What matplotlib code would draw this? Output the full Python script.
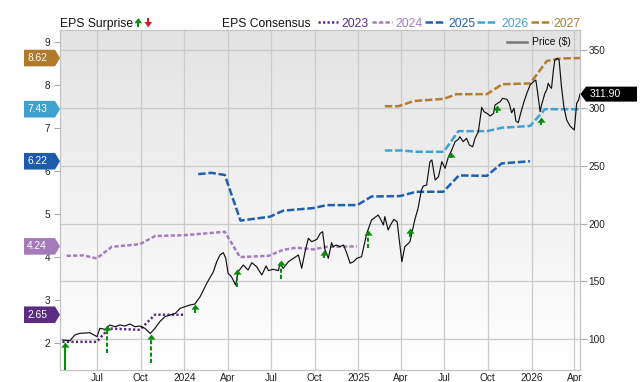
import matplotlib
matplotlib.use('Agg')
import matplotlib.pyplot as plt
import numpy as np
import pandas as pd
from matplotlib.patches import Polygon
from matplotlib.lines import Line2D
from matplotlib.path import Path
from matplotlib.transforms import IdentityTransform
from matplotlib.colors import LinearSegmentedColormap

plt.rcParams['font.family'] = ['Liberation Sans', 'DejaVu Sans']

# ---------------- data ----------------
price_dates = [
    '2023-04-20', '2023-05-05', '2023-05-15', '2023-05-26', '2023-06-16', '2023-07-01', '2023-07-07',
    '2023-07-18', '2023-07-28', '2023-08-08', '2023-08-18', '2023-08-29', '2023-09-08', '2023-09-19',
    '2023-09-29', '2023-10-10', '2023-10-21', '2023-10-31', '2023-11-10', '2023-11-21', '2023-12-02',
    '2023-12-13', '2023-12-23', '2024-01-02', '2024-01-13', '2024-01-23', '2024-02-03', '2024-02-17',
    '2024-03-02', '2024-03-09', '2024-03-16', '2024-03-23', '2024-03-28', '2024-04-02', '2024-04-09',
    '2024-04-18', '2024-04-23', '2024-05-04', '2024-05-14', '2024-05-22', '2024-06-01', '2024-06-12',
    '2024-06-21', '2024-06-26', '2024-07-06', '2024-07-17', '2024-07-20', '2024-07-27', '2024-08-07',
    '2024-08-21', '2024-08-28', '2024-09-04', '2024-09-11', '2024-09-18', '2024-09-25', '2024-10-06',
    '2024-10-13', '2024-10-18', '2024-10-23', '2024-10-27', '2024-10-30', '2024-11-06', '2024-11-09',
    '2024-11-16', '2024-11-23', '2024-12-01', '2024-12-08', '2024-12-15', '2024-12-22', '2024-12-29',
    '2025-01-08', '2025-01-19', '2025-01-29', '2025-02-12', '2025-02-16', '2025-02-23', '2025-02-26',
    '2025-03-05', '2025-03-10', '2025-03-17', '2025-03-24', '2025-03-28', '2025-04-03', '2025-04-09',
    '2025-04-13', '2025-04-20', '2025-04-30', '2025-05-07', '2025-05-14', '2025-05-18', '2025-05-25',
    '2025-06-01', '2025-06-05', '2025-06-12', '2025-06-19', '2025-06-26', '2025-07-03', '2025-07-10',
    '2025-07-17', '2025-07-24', '2025-07-31', '2025-08-03', '2025-08-10', '2025-08-17', '2025-08-23',
    '2025-08-30', '2025-09-04', '2025-09-11', '2025-09-18', '2025-09-23', '2025-09-29', '2025-10-06',
    '2025-10-13', '2025-10-16', '2025-10-27', '2025-11-01', '2025-11-10', '2025-11-15', '2025-11-20',
    '2025-11-25', '2025-11-29', '2025-12-04', '2025-12-09', '2025-12-15', '2025-12-22', '2025-12-29',
    '2026-01-05', '2026-01-10', '2026-01-14', '2026-01-19', '2026-01-22', '2026-01-29', '2026-02-02',
    '2026-02-05', '2026-02-09', '2026-02-12', '2026-02-16', '2026-02-19', '2026-02-24', '2026-02-28',
    '2026-03-05', '2026-03-10', '2026-03-16', '2026-03-23', '2026-04-01', '2026-04-06', '2026-04-10',
    '2026-04-13']
price_values = [
    99.4, 98.8, 103.7, 105.2, 105.7, 102.3, 109.5,
    108.6, 112.4, 110.9, 112.4, 111.5, 113.2, 110.9,
    111.5, 109.5, 105.0, 109.5, 115.2, 119.6, 121.0,
    122.5, 126.8, 128.2, 129.7, 130.5, 136.8, 148.4,
    158.4, 167.1, 172.9, 174.9, 170.0, 157.0, 154.1,
    146.9, 158.4, 164.2, 159.9, 166.2, 162.8, 155.6,
    163.4, 159.4, 160.5, 159.4, 165.7, 161.4, 167.1,
    170.9, 172.9, 161.4, 175.7, 187.3, 184.4, 186.4,
    191.6, 193.0, 177.2, 173.7, 170.0, 183.5, 180.0,
    181.5, 180.0, 181.5, 174.3, 165.7, 167.1, 170.0,
    171.4, 191.6, 203.1, 207.4, 204.6, 198.8, 206.0,
    194.5, 198.8, 203.7, 201.6, 187.3, 167.1, 180.0,
    181.5, 184.4, 203.1, 213.2, 229.0, 232.5, 233.3,
    253.5, 255.0, 237.7, 240.5, 253.5, 247.8, 257.8,
    263.6, 270.8, 272.9, 275.1, 270.8, 273.7, 267.9,
    266.4, 273.7, 279.4, 300.5, 296.7, 295.3, 293.0,
    295.3, 302.5, 305.4, 308.3, 307.4, 303.9, 295.8,
    299.6, 288.7, 287.2, 295.3, 303.9, 312.6, 319.8,
    322.6, 324.1, 312.6, 296.7, 302.5, 312.6, 315.5,
    321.2, 318.3, 316.9, 332.7, 341.4, 342.8, 341.4,
    318.3, 301.0, 289.5, 284.3, 280.9, 303.9, 306.8,
    311.9]

eps2023_dates = ['2023-04-19', '2023-06-30', '2023-07-26', '2023-09-29', '2023-10-31', '2023-12-30']
eps2023_values = [2.02, 2.02, 2.33, 2.30, 2.65, 2.65]

eps2024_dates = ['2023-04-28', '2023-06-02', '2023-06-30', '2023-08-01', '2023-09-29', '2023-10-31',
                 '2023-12-30', '2024-02-03', '2024-03-26', '2024-04-27', '2024-06-26', '2024-07-27',
                 '2024-08-24', '2024-09-28', '2024-10-27', '2024-12-29']
eps2024_values = [4.02, 4.03, 3.96, 4.23, 4.29, 4.48, 4.50, 4.53, 4.58, 3.99, 4.02, 4.16,
                  4.21, 4.17, 4.23, 4.24]

eps2025_dates = ['2024-01-30', '2024-02-27', '2024-03-26', '2024-04-28', '2024-06-29', '2024-07-27',
                 '2024-09-28', '2024-10-27', '2024-12-30', '2025-01-29', '2025-03-30', '2025-05-03',
                 '2025-06-29', '2025-08-01', '2025-09-29', '2025-10-30', '2025-12-29']
eps2025_values = [5.92, 5.95, 5.90, 4.84, 4.93, 5.07, 5.13, 5.20, 5.20, 5.40, 5.41, 5.51,
                  5.51, 5.89, 5.88, 6.17, 6.22]

eps2026_dates = ['2025-02-26', '2025-04-03', '2025-05-04', '2025-06-30', '2025-07-31', '2025-09-29',
                 '2025-10-31', '2025-12-29', '2026-01-29', '2026-04-13']
eps2026_values = [6.47, 6.47, 6.44, 6.44, 6.92, 6.92, 7.00, 7.04, 7.43, 7.43]

eps2027_dates = ['2025-02-26', '2025-03-27', '2025-04-28', '2025-06-30', '2025-07-27', '2025-09-29',
                 '2025-10-31', '2025-12-29', '2026-02-02', '2026-03-02', '2026-04-13']
eps2027_values = [7.50, 7.50, 7.62, 7.67, 7.78, 7.78, 8.01, 8.03, 8.55, 8.61, 8.62]

series_names = ['2023', '2024', '2025', '2026', '2027']
series_colors = ['#5b2c86', '#a67cc0', '#1f5fb0', '#3ea3d2', '#b37e2f']

surprise_dates = ['2023-04-24', '2023-07-23', '2023-10-22', '2024-01-23', '2024-04-21', '2024-07-22',
                  '2024-10-21', '2025-01-22', '2025-04-20', '2025-07-15', '2025-10-20', '2026-01-21']
surprise_tip = [98.1, 112.4, 104.6, 130.3, 160.5, 168.5, 177.2, 194.5, 196.5, 262.1, 302.5, 292.4]
surprise_base = [70.0, 87.9, 79.8, 123.0, 145.0, 151.9, 170.0, 178.7, 188.7, 256.4, 295.3, 285.2]

x_tick_dates = ['2023-07-01', '2023-10-01', '2024-01-01', '2024-04-01', '2024-07-01', '2024-10-01',
                '2025-01-01', '2025-04-01', '2025-07-01', '2025-10-01', '2026-01-01', '2026-04-01']
x_tick_labels = ['Jul', 'Oct', '2024', 'Apr', 'Jul', 'Oct', '2025', 'Apr', 'Jul', 'Oct', '2026', 'Apr']
eps_ticks = [2, 3, 4, 5, 6, 7, 8, 9]
price_ticks = [100, 150, 200, 250, 300, 350]

badge_values = [8.62, 7.43, 6.22, 4.24, 2.65]
badge_colors = ['#b07a2c', '#3ea1cf', '#1e5cab', '#a57ab8', '#5a2d82']
last_price = 311.90

# ---------------- figure ----------------
W, H = 640, 382
fig = plt.figure(figsize=(W / 100, H / 100), dpi=100)
L, R, T, B = 60, 580, 30, 370
rect = [L / W, (H - B) / H, (R - L) / W, (B - T) / H]

ax_bg = fig.add_axes(rect)
grad = LinearSegmentedColormap.from_list('g', ['#e3e3e3', '#ffffff'])
ax_bg.imshow(np.linspace(0, 1, 256).reshape(-1, 1), cmap=grad, aspect='auto',
             extent=[0, 1, 0, 1], interpolation='bilinear')
ax_bg.set_axis_off()

ax_p = fig.add_axes(rect)
ax_p.patch.set_visible(False)
ax_e = ax_p.twinx()
ax_top = fig.add_axes(rect, sharex=ax_p, sharey=ax_p)
ax_top.set_axis_off()
ax_top.patch.set_visible(False)

xmin, xmax = pd.Timestamp('2023-04-14'), pd.Timestamp('2026-04-13')
ax_p.set_xlim(xmin, xmax)
ax_p.set_ylim(73.5, 367.3)
ax_e.set_ylim(1.365, 9.272)

# grid / ticks
ax_p.set_xticks(pd.to_datetime(x_tick_dates))
ax_p.set_xticklabels(x_tick_labels)
ax_p.set_yticks(price_ticks)
ax_p.set_yticklabels([str(v) for v in price_ticks])
ax_p.grid(True, color='#cbcbcb', lw=0.9)
ax_p.yaxis.tick_right()
ax_p.tick_params(axis='x', length=0, pad=2.0, labelsize=7.3, labelcolor='#222222')
ax_p.tick_params(axis='y', right=True, left=False, labelright=True, labelleft=False,
                 length=4.8, pad=1.3, width=0.8, color='#aaaaaa', labelcolor='#222222', labelsize=7.2)
ax_e.set_yticks(eps_ticks)
ax_e.set_yticklabels([str(v) for v in eps_ticks])
ax_e.yaxis.tick_left()
ax_e.tick_params(axis='y', left=True, right=False, labelleft=True, labelright=False,
                 length=4.3, pad=2.9, width=0.8, color='#aaaaaa', labelcolor='#222222', labelsize=7.2)
for s in ax_p.spines.values():
    s.set_color('#c4c4c4')
    s.set_linewidth(0.9)
for s in ax_e.spines.values():
    s.set_visible(False)

# EPS consensus lines
eps_dates = [eps2023_dates, eps2024_dates, eps2025_dates, eps2026_dates, eps2027_dates]
eps_vals = [eps2023_values, eps2024_values, eps2025_values, eps2026_values, eps2027_values]
styles = [(0, (0.9, 0.9)), (0, (1.7, 0.9)), (0, (3.0, 1.1)), (0, (3.0, 1.1)), (0, (3.0, 1.1))]
for d, v, c, ls in zip(eps_dates, eps_vals, series_colors, styles):
    ax_e.plot(pd.to_datetime(d), v, color=c, lw=1.8, ls=ls, dash_capstyle='butt')

# price line
ax_top.plot(pd.to_datetime(price_dates), price_values, color='#111111', lw=0.85)

# surprise arrows
green = '#0c8c0c'
red = '#e3161b'
head = Path([(0, 0), (-0.8, -1), (0.8, -1), (0, 0)],
            [Path.MOVETO, Path.LINETO, Path.LINETO, Path.CLOSEPOLY])
for i, (d, tip, base) in enumerate(zip(pd.to_datetime(surprise_dates), surprise_tip, surprise_base)):
    ls = '-' if i == 0 else (0, (2.0, 1.0))
    ax_top.plot([d, d], [base, tip - 3.0], color=green, lw=1.5, ls=ls, solid_capstyle='butt')
    ax_top.plot([d], [tip], marker=head, ms=7.4, color=green, mew=0, ls='none')

# ---------------- badges ----------------
ident = IdentityTransform()


def disp_y(ax, v):
    return ax.transData.transform((ax.get_xlim()[0], v))[1]


for v, c in zip(badge_values, badge_colors):
    yc = disp_y(ax_e, v)
    poly = Polygon([(24, yc - 8.3), (55, yc - 8.3), (60, yc), (55, yc + 8.3), (24, yc + 8.3)],
                   closed=True, transform=ident, facecolor=c, edgecolor='none', zorder=5)
    fig.add_artist(poly)
    fig.text(27, yc, f'{v:.2f}', transform=ident, ha='left', va='center', color='white',
             fontsize=7.4, zorder=6)

yc = disp_y(ax_p, last_price)
poly = Polygon([(580.5, yc), (586, yc + 7.5), (637, yc + 7.5), (637, yc - 7.5), (586, yc - 7.5)],
               closed=True, transform=ident, facecolor='black', edgecolor='none', zorder=5)
fig.add_artist(poly)
fig.text(590, yc, f'{last_price:.2f}', transform=ident, ha='left', va='center', color='white',
         fontsize=7.5, zorder=6)

# ---------------- legend (top) ----------------
def py(y):
    return H - y


base_y = py(27.3)
fig.text(60, base_y, 'EPS Surprise', transform=ident, ha='left', va='baseline', fontsize=8.7,
         color='#111111')
# legend arrows
fig.add_artist(Polygon([(134.5, py(23.3)), (142.1, py(23.3)), (138.3, py(18.0))], closed=True,
                       transform=ident, facecolor=green, edgecolor='none'))
fig.add_artist(Polygon([(137.4, py(23.3)), (139.2, py(23.3)), (139.2, py(27.3)), (137.4, py(27.3))],
                       closed=True, transform=ident, facecolor=green, edgecolor='none'))
fig.add_artist(Polygon([(144.5, py(22.0)), (152.1, py(22.0)), (148.3, py(27.3))], closed=True,
                       transform=ident, facecolor=red, edgecolor='none'))
fig.add_artist(Polygon([(147.4, py(22.0)), (149.2, py(22.0)), (149.2, py(18.0)), (147.4, py(18.0))],
                       closed=True, transform=ident, facecolor=red, edgecolor='none'))

fig.text(221.7, base_y, 'EPS Consensus', transform=ident, ha='left', va='baseline', fontsize=8.7,
         color='#111111')
seg_x = [(318, 338), (371.7, 391.7), (425, 445), (476.7, 496.7), (530.7, 551.7)]
txt_x = [341.7, 395, 448, 501, 553]
for (x0, x1), tx, name, c, ls in zip(seg_x, txt_x, series_names, series_colors, styles):
    fig.add_artist(Line2D([x0, x1], [py(22.4), py(22.4)], transform=ident, color=c, lw=1.8, ls=ls,
                          dash_capstyle='butt'))
    fig.text(tx, base_y, name, transform=ident, ha='left', va='baseline', fontsize=8.7, color=c)

# price legend inside plot
fig.add_artist(Line2D([507, 527], [py(41.7), py(41.7)], transform=ident, color='#777777', lw=1.8))
fig.text(532, py(45.3), 'Price ($)', transform=ident, ha='left', va='baseline', fontsize=7.4,
         color='#111111')

fig.savefig('out.png', dpi=100)
